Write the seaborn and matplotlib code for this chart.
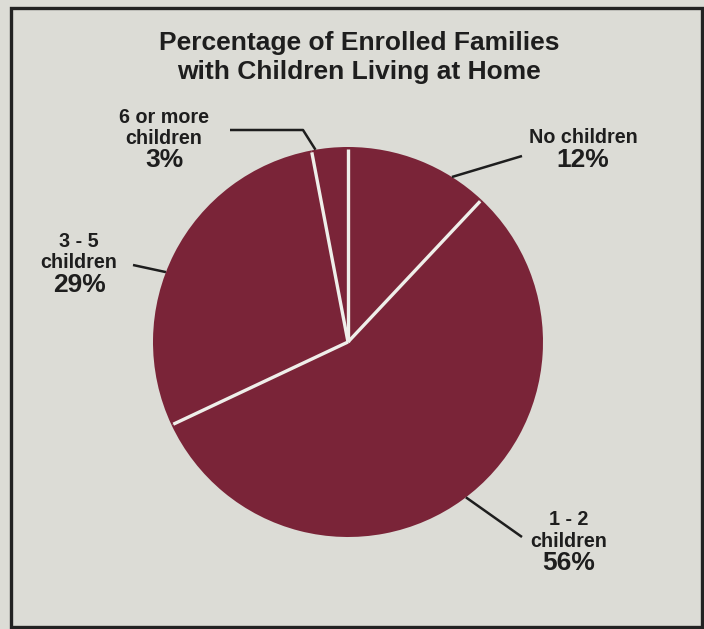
import matplotlib
matplotlib.use("Agg")
import matplotlib.pyplot as plt
import numpy as np
import seaborn as sns
from matplotlib.patches import Rectangle

# Data
categories = ["No children", "1 - 2\nchildren", "3 - 5\nchildren", "6 or more\nchildren"]
percentages = [12, 56, 29, 3]
title_lines = ["Percentage of Enrolled Families", "with Children Living at Home"]

# Styling
BG = "#dcdcd6"
MAROON = "#7a2438"
INK = "#1e1e1e"
SEP = "#efefea"

sns.set_theme(style="white")
plt.rcParams["font.family"] = ["Liberation Sans", "DejaVu Sans"]

W, H = 704, 629
fig = plt.figure(figsize=(W / 100, H / 100), dpi=100)
fig.patch.set_facecolor(BG)
ax = fig.add_axes([0, 0, 1, 1])
ax.set_facecolor(BG)

# pie geometry in pixel units (y measured from the top)
cx, cy_top, r = 348, 342, 195
cy = H - cy_top

ax.pie(percentages, startangle=90, counterclock=False,
       colors=[MAROON] * len(percentages), center=(cx, cy), radius=r,
       wedgeprops=dict(linewidth=0), frame=True)

# white separators between slices
cum = np.concatenate([[0], np.cumsum(percentages)[:-1]])
for c in cum:
    a = np.deg2rad(90 - 360 * c / 100)
    ax.plot([cx, cx + r * 0.99 * np.cos(a)], [cy, cy + r * 0.99 * np.sin(a)],
            color=SEP, lw=2.4, solid_capstyle="butt", zorder=3)

# label layout: x centre, baselines of name lines, baseline of percentage,
# leader anchor angle on the rim, leader outer path
layout = [
    dict(x=583, names=[143], pct=167, ang=57.8, path=[(522, 156)]),
    dict(x=569, names=[525, 547], pct=570, ang=-52.8, path=[(522, 537)]),
    dict(x=79, names=[247, 268], pct=292, ang=159.0, path=[(133, 265)]),
    dict(x=164, names=[123, 144], pct=167, ang=99.6, path=[(303, 130), (230, 130)]),
]

for cat, val, lay in zip(categories, percentages, layout):
    for line, yb in zip(cat.split("\n"), lay["names"]):
        ax.text(lay["x"], H - yb, line, ha="center", va="baseline",
                fontsize=14.2, fontweight="bold", color=INK)
    ax.text(lay["x"], H - lay["pct"], f"{val}%", ha="center", va="baseline",
            fontsize=19, fontweight="bold", color=INK)
    a = np.deg2rad(lay["ang"])
    xs = [cx + r * np.cos(a)] + [p[0] for p in lay["path"]]
    ys = [cy + r * np.sin(a)] + [H - p[1] for p in lay["path"]]
    ax.plot(xs, ys, color=INK, lw=1.8, solid_capstyle="butt", zorder=4)

# title
for line, yb in zip(title_lines, [50, 79]):
    ax.text(359, H - yb, line, ha="center", va="baseline",
            fontsize=19, fontweight="bold", color=INK)

# outer frame
ax.add_patch(Rectangle((10.5, H - 627), 691, 619, fill=False,
                       edgecolor="#222222", lw=2.4, zorder=5))

ax.set_xlim(0, W)
ax.set_ylim(0, H)
ax.set_aspect("equal", adjustable="box")
ax.axis("off")

fig.savefig("out.png", dpi=100, facecolor=BG)
